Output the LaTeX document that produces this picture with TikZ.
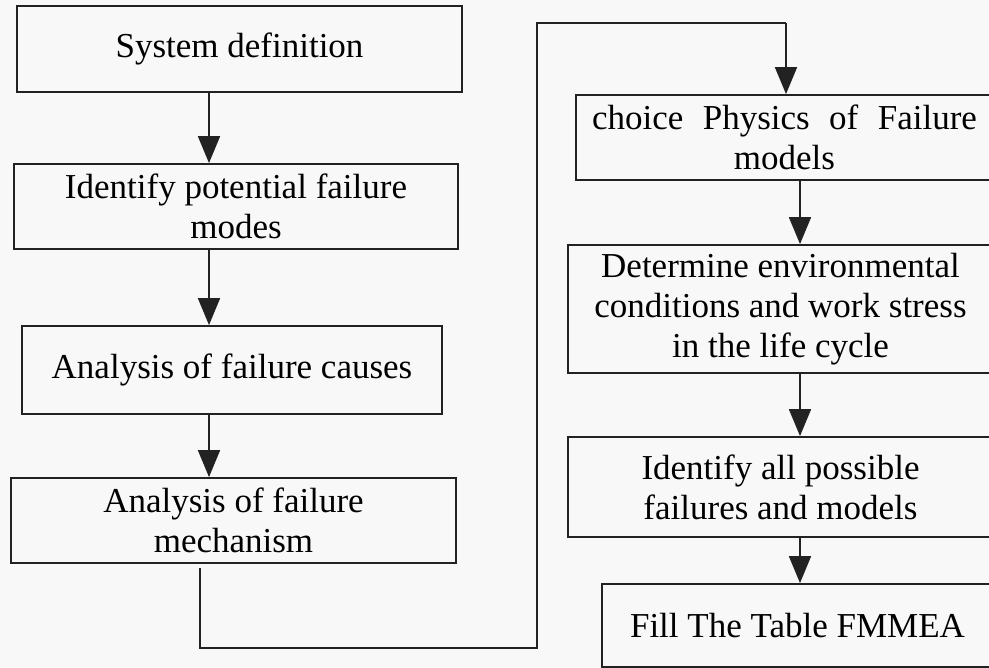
\documentclass[tikz,border=0pt]{standalone}
\usepackage{fontspec}
\setmainfont{Liberation Serif}
\usetikzlibrary{arrows.meta}
\definecolor{ink}{HTML}{222222}
\definecolor{paper}{HTML}{F8F8F8}
\begin{document}
\begin{tikzpicture}[x=1pt,y=-1pt,
  stepbox/.style={draw=ink, line width=1.8pt, rectangle, inner sep=0pt,
    align=center, text=black, font=\fontsize{35}{40}\selectfont},
  flow/.style={draw=ink, line width=1.8pt,
    -{Triangle[length=27pt,width=22pt]}},
  link/.style={draw=ink, line width=1.8pt}]
\useasboundingbox (0,0) rectangle (989,668);
\fill[paper] (0,0) rectangle (989,668);
\clip (0,0) rectangle (989,668);

% left column
\node[stepbox, minimum width=445pt, minimum height=86pt] (b1) at (239.5,49) {System definition};
\node[stepbox, minimum width=444pt, minimum height=85pt] (b2) at (236,206.5) {Identify potential failure\\modes};
\node[stepbox, minimum width=420pt, minimum height=88pt] (b3) at (232,370) {Analysis of failure causes};
\node[stepbox, minimum width=445pt, minimum height=85pt] (b4) at (233.5,520.5) {Analysis of failure\\mechanism};

% right column
\node[stepbox, minimum width=417pt, minimum height=85pt] (b5) at (784.5,137.5) {\makebox[385pt][s]{choice Physics of Failure}\\models};
\node[stepbox, minimum width=425pt, minimum height=128pt] (b6) at (780.5,309) {Determine environmental\\conditions and work stress\\in the life cycle};
\node[stepbox, minimum width=425pt, minimum height=100pt] (b7) at (780.5,487) {Identify all possible\\failures and models};
\node[stepbox, minimum width=391pt, minimum height=83pt] (b8) at (797.5,625.5) {Fill The Table FMMEA};

% arrow columns
\coordinate (lx) at (209,0);
\coordinate (rx) at (800,0);
\coordinate (ux) at (786,0);

\draw[flow] (b1.south -| lx) -- (b2.north -| lx);
\draw[flow] (b2.south -| lx) -- (b3.north -| lx);
\draw[flow] (b3.south -| lx) -- (b4.north -| lx);

% loop from the left column over to the right column
\coordinate (s0) at (200,568);
\coordinate (s1) at (200,648);
\coordinate (s2) at (537,648);
\coordinate (s3) at (537,23);
\coordinate (s4) at (786,23);
\draw[link] (s0) -- (s1) -- (s2) -- (s3) -- (s4);
\draw[flow] (s4) -- (b5.north -| ux);

\draw[flow] (b5.south -| rx) -- (b6.north -| rx);
\draw[flow] (b6.south -| rx) -- (b7.north -| rx);
\draw[flow] (b7.south -| rx) -- (b8.north -| rx);
\end{tikzpicture}
\end{document}
